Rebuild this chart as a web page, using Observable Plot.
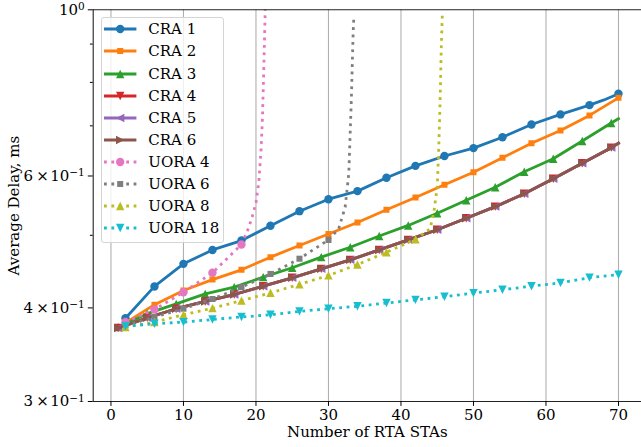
<!DOCTYPE html>
<html><head><meta charset="utf-8">
<script src="https://cdn.jsdelivr.net/npm/d3@7"></script>
<script src="https://cdn.jsdelivr.net/npm/@observablehq/plot@0.6"></script>
<style>
html,body{margin:0;padding:0;background:#fff;}
#wrap{position:relative;width:641px;height:447px;overflow:hidden;font-family:'DejaVu Serif',serif;}
#legend{position:absolute;left:101px;top:16.5px;width:123px;height:226px;box-sizing:border-box;border:1px solid #d5d5d5;border-radius:3px;background:rgba(255,255,255,0.8);}
.item{position:absolute;left:0;height:22px;display:flex;align-items:center;font-size:15px;color:#000;white-space:nowrap;}
.item svg{display:block;}
</style></head><body><div id="wrap"></div>
<script>
// ---- axis data ----
const xDomain = [-2.45, 73.45];
const yDomain = [0.3, 1.0];
const xTicks = [0, 10, 20, 30, 40, 50, 60, 70];
const yMajor = [0.3, 0.4, 0.6, 1.0];
const yTickLabels = ["3×10⁻¹", "4×10⁻¹", "6×10⁻¹", "10⁰"];
const yMantissa = ["3", "4", "6", ""];
const yExponent = ["−1", "−1", "−1", "0"];
const yMinor = [0.5, 0.7, 0.8, 0.9];
const xLabel = "Number of RTA STAs";
const yLabel = "Average Delay, ms";

// ---- series ----
const names = ["CRA 1","CRA 2","CRA 3","CRA 4","CRA 5","CRA 6","UORA 4","UORA 6","UORA 8","UORA 18"];
const colors = ["#1f77b4","#ff7f0e","#2ca02c","#d62728","#9467bd","#8c564b","#e377c2","#7f7f7f","#bcbd22","#17becf"];
const symbols = ["circle","square","up","down","left","right","circle","square","up","down"];
const dotted = [false,false,false,false,false,false,true,true,true,true];
const markStart = [2,2,1,1,1,1,2,2,2,2];
const markMax = [70,70,69,69,69,69,18,30,42,70];

const cra1X = [2,6,10,14,18,22,26,30,34,38,42,46,50,54,58,62,66,68,70];
const cra1Y = [0.3875,0.4273,0.458,0.478,0.492,0.515,0.5385,0.5587,0.5727,0.5967,0.619,0.638,0.6536,0.676,0.703,0.725,0.746,0.758,0.7725];
const cra2X = [2,6,10,14,18,22,26,30,34,38,42,46,50,54,58,62,66,70];
const cra2Y = [0.382,0.404,0.422,0.4364,0.4497,0.4675,0.4845,0.502,0.520,0.541,0.5616,0.584,0.607,0.6345,0.6636,0.690,0.7228,0.763];
const cra3X = [1,5,9,13,17,21,25,29,33,37,41,45,49,53,57,61,65,69,70];
const cra3Y = [0.377,0.393,0.405,0.4176,0.4264,0.4397,0.4525,0.4675,0.482,0.499,0.5154,0.535,0.557,0.5797,0.608,0.6326,0.668,0.706,0.7155];
const cra4X = [1,5,9,13,17,21,25,29,33,37,41,45,49,53,57,61,65,69,70];
const cra4Y = [0.376,0.388,0.399,0.408,0.4168,0.4276,0.4388,0.451,0.4637,0.478,0.4931,0.5086,0.527,0.546,0.568,0.595,0.624,0.6546,0.6636];
const cra5X = [1,5,9,13,17,21,25,29,33,37,41,45,49,53,57,61,65,69,70];
const cra5Y = [0.376,0.388,0.399,0.408,0.4168,0.4276,0.4388,0.451,0.4637,0.478,0.4931,0.5086,0.527,0.546,0.568,0.595,0.624,0.6546,0.6636];
const cra6X = [1,5,9,13,17,21,25,29,33,37,41,45,49,53,57,61,65,69,70];
const cra6Y = [0.376,0.388,0.399,0.408,0.4168,0.4276,0.4388,0.451,0.4637,0.478,0.4931,0.5086,0.527,0.546,0.568,0.595,0.624,0.6546,0.6636];
const uora4X = [2,6,10,14,18,19,19.5,20,20.4,20.7,20.9,21.1,21.3];
const uora4Y = [0.383,0.398,0.4197,0.4456,0.486,0.512,0.53,0.553,0.59,0.65,0.72,0.85,1.02];
const uora6X = [2,6,10,14,18,22,26,30,31.4,32.3,32.8,33.15,33.4,33.5];
const uora6Y = [0.379,0.389,0.399,0.411,0.4264,0.444,0.4653,0.493,0.510,0.545,0.604,0.757,0.929,0.98];
const uora8X = [2,6,10,14,18,22,26,30,34,38,42,44,44.5,45,45.2,45.4,45.55,45.7];
const uora8Y = [0.377,0.383,0.3916,0.3997,0.409,0.419,0.430,0.442,0.457,0.4746,0.494,0.51,0.534,0.58,0.649,0.757,0.883,0.983];
const uora18X = [2,6,10,14,18,22,26,30,34,38,42,46,50,54,58,62,66,70];
const uora18Y = [0.378,0.381,0.3829,0.386,0.389,0.3916,0.3957,0.399,0.402,0.406,0.410,0.414,0.4186,0.423,0.4276,0.432,0.439,0.443];

const xs = [cra1X,cra2X,cra3X,cra4X,cra5X,cra6X,uora4X,uora6X,uora8X,uora18X];
const ys = [cra1Y,cra2Y,cra3Y,cra4Y,cra5Y,cra6Y,uora4Y,uora6Y,uora8Y,uora18Y];

// ---- marker shapes ----
const symPath = pts => ({draw(ctx, size){
  const r = Math.sqrt(size/Math.PI);
  ctx.moveTo(pts[0][0]*r, pts[0][1]*r);
  for (let i = 1; i < pts.length; i++) ctx.lineTo(pts[i][0]*r, pts[i][1]*r);
  ctx.closePath();
}});
const SYM = {
  circle: d3.symbolCircle,
  square: symPath([[-.72,-.72],[.72,-.72],[.72,.72],[-.72,.72]]),
  up: symPath([[0,-1],[-1,1],[1,1]]),
  down: symPath([[0,1],[-1,-1],[1,-1]]),
  left: symPath([[-1,0],[1,-1],[1,1]]),
  right: symPath([[1,0],[-1,-1],[-1,1]])
};
const R = 4.2, LW = 2.8, DASH = "2.8,4.6", FS = 15;

const marks = [Plot.gridX(xTicks, {stroke:"#b0b0b0", strokeOpacity:1, strokeWidth:1.1})];
names.forEach((name, k) => {
  const rows = xs[k].map((x, i) => ({x, y: ys[k][i]}));
  const lineOpts = {x:"x", y:"y", stroke:colors[k], strokeWidth:LW, clip:true, curve:"linear"};
  if (dotted[k]) { lineOpts.strokeDasharray = DASH; lineOpts.strokeLinecap = "butt"; }
  else { lineOpts.strokeLinecap = "square"; }
  marks.push(Plot.line(rows, lineOpts));
  const mrows = rows.filter(d => Number.isInteger(d.x) && (d.x - markStart[k]) % 4 === 0 && d.x <= markMax[k]);
  marks.push(Plot.dot(mrows, {x:"x", y:"y", r:R, symbol:SYM[symbols[k]], fill:colors[k], stroke:"none", clip:true}));
});
marks.push(
  Plot.ruleY([yDomain[1]], {stroke:"#222", strokeWidth:1.1}),
  Plot.ruleY([yDomain[0]], {stroke:"#222", strokeWidth:1.1}),
  Plot.ruleX([xDomain[0]], {stroke:"#222", strokeWidth:1.1}),
  Plot.axisX({ticks:xTicks, tickSize:4.9, tickPadding:2.5, label:null, fontSize:FS}),
  Plot.axisY({ticks:yMajor, tickFormat:d => yTickLabels[yMajor.indexOf(d)], tickSize:4.9, tickPadding:3.5, label:null, fontSize:FS}),
  Plot.axisY({ticks:yMinor, tickFormat:() => "", tickSize:2.8, label:null}),
  Plot.text([xLabel], {frameAnchor:"bottom", dy:31, lineAnchor:"middle", textAnchor:"middle", fontSize:FS}),
  Plot.text([yLabel], {frameAnchor:"left", dx:-79, rotate:-90, lineAnchor:"middle", textAnchor:"middle", fontSize:FS})
);

const chart = Plot.plot({
  width:641, height:447,
  marginLeft:92.7, marginRight:0, marginTop:9.3, marginBottom:46,
  x:{domain:xDomain, range:[92.7, 643]},
  y:{type:"log", domain:yDomain},
  style:{fontFamily:"'DejaVu Serif', serif", fontSize:"15px", background:"white", color:"black"},
  marks
});
const wrap = document.getElementById("wrap");
wrap.appendChild(chart);

// rebuild y tick labels as mantissa × 10 with a real superscript exponent
const ns = "http://www.w3.org/2000/svg";
chart.querySelectorAll("text").forEach(t => {
  const i = yTickLabels.indexOf(t.textContent);
  if (i < 0) return;
  t.textContent = "";
  const base = document.createElementNS(ns, "tspan");
  base.textContent = (yMantissa[i] ? yMantissa[i] + "\u2009×\u200A" : "") + "10";
  t.appendChild(base);
  const sup = document.createElementNS(ns, "tspan");
  sup.textContent = yExponent[i];
  sup.style.fontSize = "10.5px";
  sup.setAttribute("dy", "-0.45em");
  t.appendChild(sup);
});

// ---- legend (HTML overlay) ----
const legend = document.createElement("div");
legend.id = "legend";
names.forEach((name, k) => {
  const item = document.createElement("div");
  item.className = "item";
  item.style.top = (11.8 + k*22.1 - 11) + "px";
  item.style.left = "2.3px";
  const svg = document.createElementNS(ns, "svg");
  svg.setAttribute("width", 32.4); svg.setAttribute("height", 22);
  const ln = document.createElementNS(ns, "line");
  ln.setAttribute("x1", 0); ln.setAttribute("x2", 32.4); ln.setAttribute("y1", 11); ln.setAttribute("y2", 11);
  ln.setAttribute("stroke", colors[k]); ln.setAttribute("stroke-width", LW);
  if (dotted[k]) ln.setAttribute("stroke-dasharray", DASH);
  svg.appendChild(ln);
  const p = document.createElementNS(ns, "path");
  p.setAttribute("d", d3.symbol(SYM[symbols[k]], Math.PI*R*R)());
  p.setAttribute("transform", "translate(16.2,11)");
  p.setAttribute("fill", colors[k]);
  svg.appendChild(p);
  item.appendChild(svg);
  const t = document.createElement("span");
  t.textContent = name;
  t.style.marginLeft = "11.6px";
  item.appendChild(t);
  legend.appendChild(item);
});
wrap.appendChild(legend);
</script></body></html>
